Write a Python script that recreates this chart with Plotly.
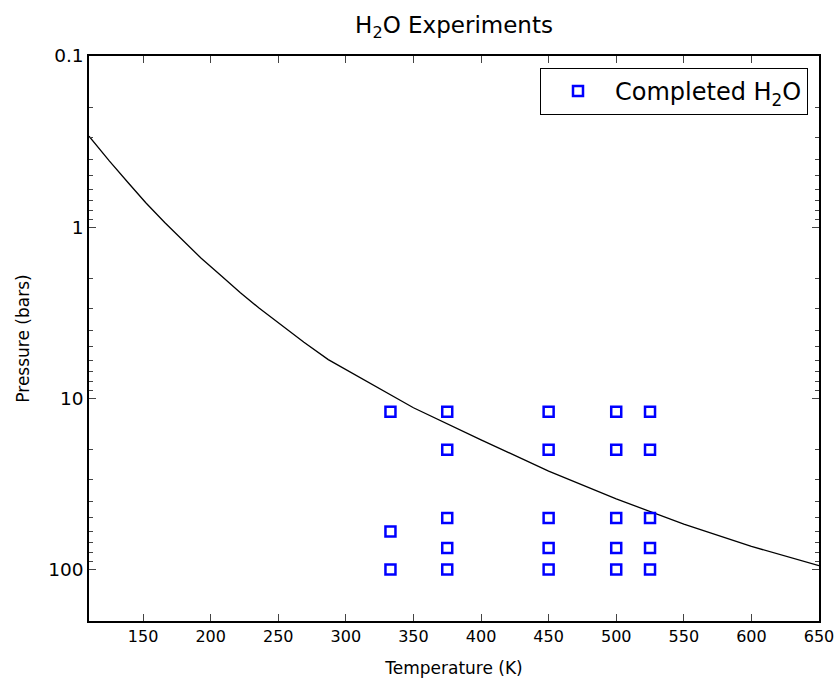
import plotly.graph_objects as go

# Experimental points (Temperature K, Pressure bars)
exp_T = [333, 333, 333,
         375, 375, 375, 375, 375,
         450, 450, 450, 450, 450,
         500, 500, 500, 500, 500,
         525, 525, 525, 525, 525]
exp_P = [12, 60, 100,
         12, 20, 50, 75, 100,
         12, 20, 50, 75, 100,
         12, 20, 50, 75, 100,
         12, 20, 50, 75, 100]

# Phase curve
curve_T = [110, 125, 139, 152, 166, 180, 193, 208, 222, 236, 251, 269, 287, 320, 350, 400, 450, 500, 550, 600, 650]
curve_P = [0.294, 0.41, 0.55, 0.72, 0.94, 1.2, 1.52, 1.93, 2.42, 2.98, 3.68, 4.7, 5.94, 8.32, 11.35, 17.5, 26.6, 38.7, 54.3, 73.3, 95.1]

x_ticks = [150, 200, 250, 300, 350, 400, 450, 500, 550, 600, 650]
y_ticks = [0.1, 1, 10, 100]
y_tick_text = ["0.1", "1", "10", "100"]
y_minor = [m * d for d in (0.1, 1, 10) for m in range(2, 10)] + [200]

FONT = "DejaVu Sans"

fig = go.Figure()
fig.add_trace(go.Scatter(x=curve_T, y=curve_P, mode="lines",
                         line=dict(color="black", width=1.3), showlegend=False))
fig.add_trace(go.Scatter(x=exp_T, y=exp_P, mode="markers", name="Completed H<sub>2</sub>O",
                         marker=dict(symbol="square-open", size=10, color="#0000ff",
                                     line=dict(width=2.5, color="#0000ff"))))

fig.update_layout(
    width=838, height=678,
    margin=dict(l=89, r=19, t=56, b=57, autoexpand=False),
    paper_bgcolor="white", plot_bgcolor="white",
    font=dict(family=FONT, color="black", size=17),
    title=dict(text="H<sub>2</sub>O Experiments", x=(89 + 819) / 2 / 838, xanchor="center",
               y=1 - 25 / 678, yanchor="middle", yref="container",
               font=dict(size=23, family=FONT)),
    legend=dict(x=(808 - 89) / 730, xanchor="right", y=(621 - 68) / 565, yanchor="top",
                bordercolor="black", borderwidth=1, bgcolor="white",
                font=dict(size=24, family=FONT), itemwidth=64),
    showlegend=True,
)
fig.update_xaxes(range=[110, 650], tickvals=x_ticks, ticks="inside", ticklen=7,
                 showline=True, linecolor="black", linewidth=1.5, mirror="allticks",
                 showgrid=False, zeroline=False, automargin=False,
                 title=dict(text="Temperature (K)", font=dict(size=17), standoff=18),
                 tickfont=dict(size=16))
fig.update_yaxes(type="log", range=[2.30103, -1], tickvals=y_ticks, ticktext=y_tick_text,
                 ticks="inside", ticklen=7,
                 showline=True, linecolor="black", linewidth=1.5, mirror="allticks",
                 showgrid=False, zeroline=False, automargin=False,
                 minor=dict(tickvals=y_minor, ticks="inside", ticklen=4, showgrid=False),
                 title=dict(text="Pressure (bars)", font=dict(size=17), standoff=14),
                 tickfont=dict(size=18.5))

fig.write_html("out.html")
